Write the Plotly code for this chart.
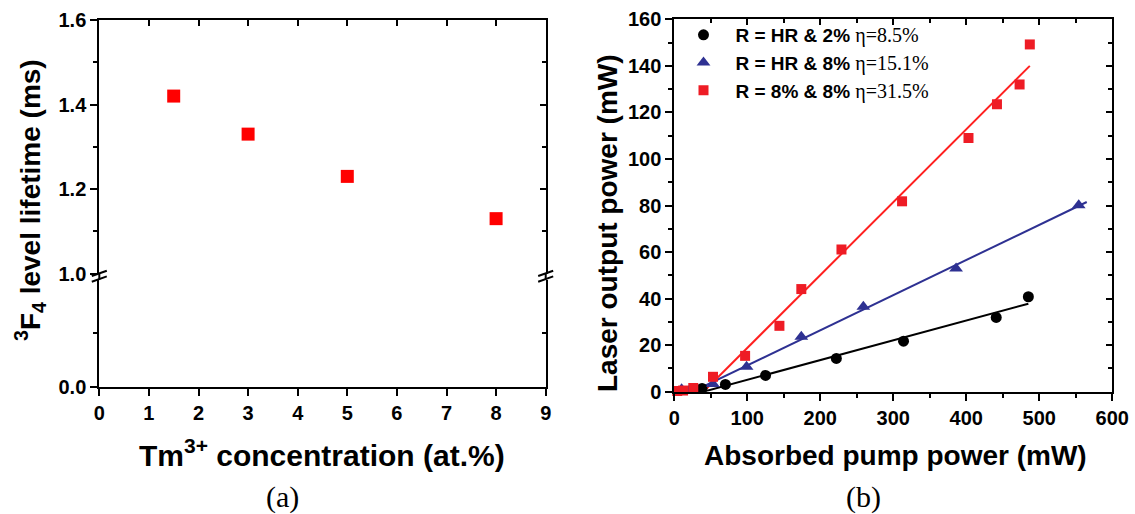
import plotly.graph_objects as go

W, H = 1135, 514

# ---------------- data ----------------
# panel (a)
conc = [1.5, 3, 5, 8]
lifetime = [1.42, 1.33, 1.23, 1.13]

# panel (b)
hr2_x = [38, 70, 125, 222, 314, 441, 485]
hr2_y = [1.4, 3.1, 7.0, 14.3, 21.7, 31.9, 40.8]
hr2_fit_x = [40, 485]
hr2_fit_y = [0, 37.8]

hr8_x = [10, 22, 53, 99, 174, 259, 386, 554]
hr8_y = [1.0, 1.2, 3.3, 10.7, 23.6, 36.5, 52.9, 80.1]
hr8_fit_x = [25, 565]
hr8_fit_y = [0, 81.5]

r88_x = [4, 12, 26, 53, 97, 144, 174, 229, 312, 403, 442, 473, 487]
r88_y = [0.3, 0.5, 1.6, 6.4, 15.4, 28.3, 44.1, 61.1, 81.8, 109.0, 123.5, 132.0, 149.2]
r88_fit_x = [40, 487]
r88_fit_y = [0, 140.0]

legend_names = ["R = HR & 2%", "R = HR & 8%", "R = 8% & 8%"]
legend_eta = ["η=8.5%", "η=15.1%", "η=31.5%"]

# ---------------- helpers ----------------
def px(x):
    return x / W

def py(y):
    return 1 - y / H

SANS = "Liberation Sans"
SERIF = "Liberation Serif"
tickfont = dict(family=SANS, size=20, color="black", weight="bold")

fig = go.Figure()

# panel (a) points
fig.add_trace(go.Scatter(x=conc, y=lifetime, mode="markers", xaxis="x", yaxis="y",
                         marker=dict(symbol="square", size=13, color="#ff0000"),
                         showlegend=False, cliponaxis=False))
# empty traces so every axis pair (broken segment and mirrored frame axes) gets a subplot
for xa, ya in [("x", "y2"), ("x3", "y"), ("x", "y3"), ("x", "y4"), ("x4", "y5"), ("x2", "y6")]:
    fig.add_trace(go.Scatter(x=[], y=[], mode="markers", xaxis=xa, yaxis=ya,
                             showlegend=False, hoverinfo="skip"))

# panel (b)
RED = "#ee1c25"
BLUE = "#2e3192"
BLACK = "#000000"
fig.add_trace(go.Scatter(x=hr2_fit_x, y=hr2_fit_y, mode="lines", xaxis="x2", yaxis="y5",
                         line=dict(color=BLACK, width=2), showlegend=False))
fig.add_trace(go.Scatter(x=hr8_fit_x, y=hr8_fit_y, mode="lines", xaxis="x2", yaxis="y5",
                         line=dict(color=BLUE, width=2), showlegend=False))
fig.add_trace(go.Scatter(x=r88_fit_x, y=r88_fit_y, mode="lines", xaxis="x2", yaxis="y5",
                         line=dict(color="#ff2020", width=2), showlegend=False))

series = [(hr2_x, hr2_y, "circle", 11, BLACK),
          (hr8_x, hr8_y, "triangle-up", 12, BLUE),
          (r88_x, r88_y, "square", 10, RED)]
for i, (xs, ys, sym, sz, col) in enumerate(series):
    name = ("<b>" + legend_names[i].replace("&", "&amp;") + "</b> "
            + "<span style='font-family:" + SERIF + ";font-weight:normal;font-size:20px'>"
            + legend_eta[i] + "</span>")
    fig.add_trace(go.Scatter(x=xs, y=ys, mode="markers", xaxis="x2", yaxis="y5",
                             marker=dict(symbol=sym, size=sz, color=col),
                             name=name, cliponaxis=False))

# ---------------- axes ----------------
AX_L, AX_R = 99.3, 545.7          # left panel x extent (px)
BRK_TOP, BRK_BOT = 273.6, 279.5   # axis-break gap (px)
xa_dom = [px(AX_L), px(AX_R)]
ya_up = [py(BRK_TOP), py(20)]
ya_lo = [py(386.7), py(BRK_BOT)]
xb_dom = [px(674.3), px(1112.3)]
yb_dom = [py(391.7), py(19.3)]

common = dict(showline=True, linewidth=2, linecolor="black", showgrid=False,
              zeroline=False, tickcolor="black", tickwidth=2, automargin=False)

fig.update_layout(
    # panel a
    xaxis=dict(domain=xa_dom, anchor="y2", range=[0, 9], tickvals=list(range(10)),
               ticks="outside", ticklen=7, tickfont=tickfont, **common),
    xaxis3=dict(overlaying="x", anchor="y", side="top", range=[0, 9],
                tickvals=list(range(10)), ticks="inside", ticklen=6,
                showticklabels=False, **common),
    yaxis=dict(domain=ya_up, anchor="x", range=[1.0, 1.6],
               tickvals=[1.0, 1.2, 1.4, 1.6], ticktext=["1.0", "1.2", "1.4", "1.6"],
               ticks="outside", ticklen=7, tickfont=tickfont,
               minor=dict(tickvals=[1.1, 1.3, 1.5], ticks="outside", ticklen=4,
                          tickcolor="black", tickwidth=2),
               **common),
    yaxis3=dict(overlaying="y", anchor="x", side="right", range=[1.0, 1.6],
                tickvals=[1.0, 1.2, 1.4, 1.6], ticks="inside", ticklen=6,
                showticklabels=False,
                minor=dict(tickvals=[1.1, 1.3, 1.5], ticks="inside", ticklen=4,
                           tickcolor="black", tickwidth=2),
                **common),
    yaxis2=dict(domain=ya_lo, anchor="x", range=[0, 0.2], tickvals=[0],
                ticktext=["0.0"], ticks="outside", ticklen=7, tickfont=tickfont,
                minor=dict(tickvals=[0.1], ticks="outside", ticklen=4,
                           tickcolor="black", tickwidth=2),
                **common),
    yaxis4=dict(overlaying="y2", anchor="x", side="right", range=[0, 0.2],
                tickvals=[0], ticks="inside", ticklen=6, showticklabels=False,
                minor=dict(tickvals=[0.1], ticks="inside", ticklen=4,
                           tickcolor="black", tickwidth=2),
                **common),
    # panel b
    xaxis2=dict(domain=xb_dom, anchor="y5", range=[0, 600], dtick=100,
                ticks="outside", ticklen=7, tickfont=tickfont,
                minor=dict(dtick=50, ticks="outside", ticklen=4, tickcolor="black", tickwidth=2),
                **common),
    xaxis4=dict(overlaying="x2", anchor="y5", side="top", range=[0, 600], dtick=100,
                ticks="inside", ticklen=6, showticklabels=False,
                minor=dict(dtick=50, ticks="inside", ticklen=4, tickcolor="black", tickwidth=2),
                **common),
    yaxis5=dict(domain=yb_dom, anchor="x2", range=[0, 160], dtick=20,
                ticks="outside", ticklen=7, tickfont=tickfont,
                minor=dict(dtick=10, ticks="outside", ticklen=4, tickcolor="black", tickwidth=2),
                **common),
    yaxis6=dict(overlaying="y5", anchor="x2", side="right", range=[0, 160], dtick=20,
                ticks="inside", ticklen=6, showticklabels=False,
                minor=dict(dtick=10, ticks="inside", ticklen=4, tickcolor="black", tickwidth=2),
                **common),
)

# axis-break decoration (paper coordinates so it is not clipped by the plot area)
shapes = []
for ax in (AX_L, AX_R):
    shapes.append(dict(type="line", xref="paper", yref="paper",
                       x0=px(ax), x1=px(ax), y0=py(BRK_TOP), y1=py(BRK_BOT),
                       line=dict(color="black", width=2)))
    for (ya, yb) in ((276.0, 270.7), (281.7, 276.4)):
        shapes.append(dict(type="line", xref="paper", yref="paper",
                           x0=px(ax - 7.5), x1=px(ax + 7.5), y0=py(ya), y1=py(yb),
                           line=dict(color="black", width=2)))

def ann(text, x, y, size, family=SANS, angle=0):
    return dict(text=text, x=px(x), y=py(y), xref="paper", yref="paper",
                xanchor="center", yanchor="middle", textangle=angle, showarrow=False,
                font=dict(family=family, size=size, color="black"))

annotations = [
    ann("<b><sup>3</sup>F<sub>4</sub> level lifetime (ms)</b>", 30, 200, 28, angle=-90),
    ann("<b>Tm<sup>3+</sup> concentration (at.%)</b>", 322, 453, 30),
    ann("(a)", 282, 497, 30, family=SERIF),
    ann("<b>Laser output power (mW)</b>", 607, 223, 28, angle=-90),
    ann("<b>Absorbed pump power (mW)</b>", 895, 455, 28),
    ann("(b)", 863, 497, 30, family=SERIF),
]

fig.update_layout(
    width=W, height=H, margin=dict(l=0, r=0, t=0, b=0, autoexpand=False),
    paper_bgcolor="white", plot_bgcolor="white",
    shapes=shapes, annotations=annotations,
    legend=dict(x=px(671.5), y=py(16), xanchor="left", yanchor="top",
                bgcolor="rgba(0,0,0,0)", font=dict(family=SANS, size=19, color="black"),
                itemwidth=54),
)

fig.write_html("out.html", config={"displayModeBar": False},
               post_script="document.body.style.margin='0';document.body.style.overflow='hidden';")
